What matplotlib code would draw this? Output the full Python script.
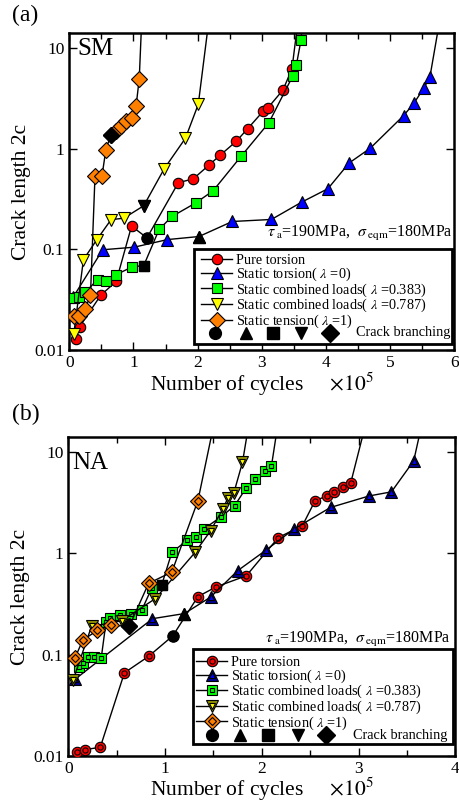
import matplotlib
matplotlib.use('Agg')
import matplotlib.pyplot as plt
from matplotlib.patches import Rectangle
from matplotlib.ticker import MultipleLocator, FixedLocator, NullLocator

plt.rcParams['font.family'] = ['Liberation Serif', 'DejaVu Serif']
plt.rcParams['mathtext.fontset'] = 'stix'

# ---- (a) SM : number of cycles (x1e5) vs crack length 2c ----
sm_pure_x = [0.10, 0.16, 0.49, 0.73, 0.97, 1.21, 1.70, 1.93, 2.18, 2.35, 2.60, 2.78, 3.02, 3.09, 3.33, 3.47]
sm_pure_y = [0.013, 0.017, 0.035, 0.048, 0.17, 0.13, 0.46, 0.50, 0.69, 0.86, 1.18, 1.58, 2.35, 2.52, 3.83, 6.2]
sm_tor_x = [0.06, 0.52, 1.01, 1.53, 2.02, 2.54, 3.15, 3.62, 4.03, 4.36, 4.69, 5.21, 5.37, 5.53, 5.62]
sm_tor_y = [0.0335, 0.099, 0.105, 0.125, 0.134, 0.189, 0.198, 0.294, 0.40, 0.72, 1.01, 2.13, 2.82, 4.04, 5.15]
sm_c383_x = [0.07, 0.15, 0.25, 0.44, 0.57, 0.73, 0.98, 1.16, 1.40, 1.60, 1.97, 2.24, 2.68, 3.11, 3.48, 3.54, 3.61]
sm_c383_y = [0.033, 0.0335, 0.0376, 0.050, 0.048, 0.056, 0.067, 0.069, 0.158, 0.212, 0.289, 0.381, 0.844, 1.81, 5.23, 6.84, 11.9]
sm_c787_x = [0.07, 0.22, 0.43, 0.65, 0.85, 1.16, 1.48, 1.81, 2.01]
sm_c787_y = [0.0145, 0.079, 0.125, 0.197, 0.204, 0.271, 0.633, 1.27, 2.76]
sm_ten_x = [0.07, 0.15, 0.25, 0.33, 0.40, 0.51, 0.57, 0.65, 0.73, 0.81, 0.88, 0.97, 1.04, 1.09]
sm_ten_y = [0.022, 0.0218, 0.0256, 0.0354, 0.53, 0.54, 0.98, 1.38, 1.49, 1.67, 1.87, 2.03, 2.63, 4.96]
sm_branch = [5, 4, 7, 5, 7]          # index of crack-branching point per series
sm_tail = [3.57, 5.78, 3.64, 2.18, 1.13]  # x where the curve leaves the top

# ---- (b) NA ----
na_pure_x = [0.09, 0.17, 0.33, 0.58, 0.83, 1.08, 1.34, 1.53, 1.84, 2.17, 2.42, 2.55, 2.67, 2.75, 2.84, 2.92]
na_pure_y = [0.011, 0.0115, 0.0121, 0.066, 0.096, 0.153, 0.374, 0.467, 0.60, 1.43, 1.88, 3.30, 3.69, 4.07, 4.56, 5.0]
na_tor_x = [0.07, 0.87, 1.20, 1.47, 1.75, 2.04, 2.33, 2.71, 3.11, 3.34, 3.57]
na_tor_y = [0.057, 0.226, 0.254, 0.369, 0.673, 1.07, 1.73, 2.84, 3.69, 4.05, 8.2]
na_c383_x = [0.11, 0.155, 0.20, 0.27, 0.34, 0.39, 0.43, 0.53, 0.65, 0.76, 0.865, 0.965, 1.07, 1.23, 1.32, 1.40,
             1.58, 1.72, 1.84, 1.93, 2.03, 2.10]
na_c383_y = [0.075, 0.083, 0.095, 0.095, 0.092, 0.209, 0.230, 0.245, 0.252, 0.276, 0.458, 0.486, 1.02, 1.35, 1.44,
             1.74, 2.30, 2.96, 4.46, 5.44, 6.53, 7.32]
na_c787_x = [0.05, 0.24, 0.55, 0.90, 1.31, 1.47, 1.60, 1.65, 1.71, 1.80]
na_c787_y = [0.056, 0.19, 0.215, 0.357, 1.02, 1.67, 2.77, 3.53, 3.93, 7.9]
na_ten_x = [0.07, 0.15, 0.30, 0.44, 0.63, 0.83, 1.07, 1.34]
na_ten_y = [0.093, 0.139, 0.173, 0.195, 0.19, 0.505, 0.653, 3.32]
na_branch = [5, 2, 11, None, 4]
na_tail = [3.08, 3.66, 2.17, 1.87, 1.51]

labels = ['Pure torsion', r'Static torsion( $\lambda$ =0)', r'Static combined loads( $\lambda$ =0.383)',
          r'Static combined loads( $\lambda$ =0.787)', r'Static tension( $\lambda$ =1)']
markers = ['o', '^', 's', 'v', 'D']
sizes = [7.5, 8, 7, 8, 8]
sm_colors = ['#ff0000', '#0000ff', '#00ff00', '#ffff00', '#ff8000']
na_outer = ['#ff0000', '#000090', '#00ff00', '#8f8f00', '#ff8000']
na_inner = ['#ff0000', '#0000ff', '#00ff00', '#ffff00', '#ff8000']

fig = plt.figure(figsize=(4.6, 8.02), dpi=100)
ax1 = fig.add_axes([0.1507, 0.5636, 0.8369, 0.3949])
ax2 = fig.add_axes([0.1485, 0.0577, 0.8413, 0.3970])


def draw_panel(ax, xs, ys, branch, tail, outer, inner, xmax):
    handles = []
    for i in range(5):
        x, y = xs[i], ys[i]
        ax.plot([x[-1], tail[i]], [y[-1], 20], color='black', lw=1, zorder=2)
        h, = ax.plot(x, y, color='black', lw=1, marker=markers[i], ms=sizes[i],
                     mfc=outer[i], mec='black', mew=0.8, zorder=3)
        hh = h
        if inner is not None:
            h2, = ax.plot(x, y, ls='none', marker=markers[i], ms=sizes[i] * 0.5,
                          mfc=inner[i], mec='black', mew=0.8, zorder=3)
            hh = (h, h2)
        handles.append(hh)
        b = branch[i]
        if b is not None:
            ax.plot(x[b], y[b], ls='none', marker=markers[i], ms=sizes[i] + 0.5,
                    mfc='black', mec='black', zorder=4)
    ax.set_yscale('log')
    ax.set_ylim(0.01, 14)
    ax.set_xlim(0, xmax)
    ax.xaxis.set_major_locator(MultipleLocator(1))
    ax.xaxis.set_minor_locator(MultipleLocator(0.5))
    ax.yaxis.set_major_locator(FixedLocator([0.01, 0.1, 1, 10]))
    ax.yaxis.set_minor_locator(NullLocator())
    ax.set_yticklabels(['0.01', '0.1', '1', '10'])
    ax.tick_params(which='both', direction='in', top=True, right=True, labelsize=12.5, width=1)
    ax.tick_params(which='major', length=6)
    ax.tick_params(which='minor', length=4)
    for s in ax.spines.values():
        s.set_linewidth(1.8)
    ax.set_xlabel(r'Number of cycles     $\times10^5$', fontsize=15.5, labelpad=-0.5)
    ax.set_ylabel('Crack length 2c', fontsize=15.5, labelpad=2)
    return handles


def draw_legend(ax, handles, box, lx, ly, mx, my, tx, txy):
    ax.add_patch(Rectangle((box[0], box[1]), box[2], box[3], transform=ax.transAxes,
                           fill=True, fc='white', ec='black', lw=2, zorder=5))
    leg = ax.legend(handles, labels, loc='upper left', bbox_to_anchor=(lx, ly), frameon=False,
                    fontsize=10.3, handlelength=2.2, handletextpad=0.25, labelspacing=-0.12,
                    borderpad=0, borderaxespad=0, numpoints=1)
    leg.set_zorder(6)
    for j in range(5):
        ax.plot(mx[j], my, transform=ax.transAxes, ls='none', marker=markers[j],
                ms=sizes[j] + 1, color='black', clip_on=False, zorder=7)
    ax.text(tx, my, 'Crack branching', transform=ax.transAxes, ha='right', va='center',
            fontsize=10.3, zorder=7)
    ax.text(tx + 0.008, txy, r'$\tau_{\rm\ a}$=190MPa,  $\sigma_{\rm\ eqm}$=180MPa', transform=ax.transAxes,
            ha='right', va='center', fontsize=11.5)


h1 = draw_panel(ax1, [sm_pure_x, sm_tor_x, sm_c383_x, sm_c787_x, sm_ten_x],
                [sm_pure_y, sm_tor_y, sm_c383_y, sm_c787_y, sm_ten_y],
                sm_branch, sm_tail, sm_colors, None, 6)
draw_legend(ax1, h1, (0.324, 0.019, 0.669, 0.299), 0.342, 0.302,
            [0.378, 0.458, 0.530, 0.603, 0.678], 0.055, 0.989, 0.368)
ax1.text(0.02, 0.95, 'SM', transform=ax1.transAxes, fontsize=18, va='center', ha='left')

h2 = draw_panel(ax2, [na_pure_x, na_tor_x, na_c383_x, na_c787_x, na_ten_x],
                [na_pure_y, na_tor_y, na_c383_y, na_c787_y, na_ten_y],
                na_branch, na_tail, na_outer, na_inner, 4)
draw_legend(ax2, h2, (0.323, 0.037, 0.672, 0.297), 0.33, 0.313,
            [0.371, 0.444, 0.517, 0.593, 0.666], 0.065, 0.980, 0.366)
ax2.text(0.01, 0.92, 'NA', transform=ax2.transAxes, fontsize=18, va='center', ha='left')

fig.text(0.026, 0.981, '(a)', fontsize=17, va='center', ha='left')
fig.text(0.026, 0.483, '(b)', fontsize=17, va='center', ha='left')

fig.savefig('out.png', dpi=100)
